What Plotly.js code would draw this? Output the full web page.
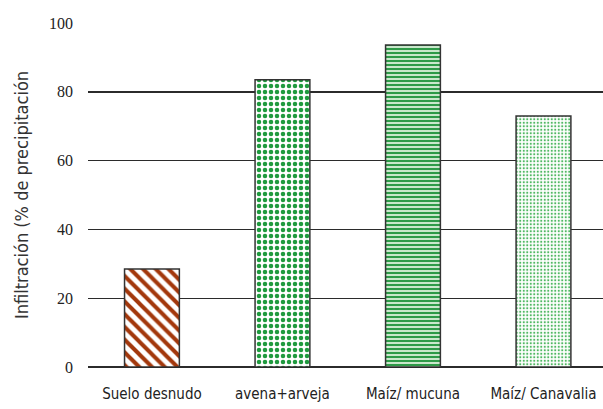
<!DOCTYPE html>
<html><head><meta charset="utf-8">
<script src="https://cdn.plot.ly/plotly-3.0.1.min.js"></script>
<style>body{margin:0;background:#fff}#c{width:603px;height:409px}</style>
</head><body><div id="c"></div>
<script>
const categories = ["Suelo desnudo", "avena+arveja", "Maíz/ mucuna", "Maíz/ Canavalia"];
const infiltration = [28.5, 83.5, 93.6, 73.0];
const yTicks = [0, 20, 40, 60, 80, 100];
const yTitle = "Infiltración (% de precipitación";

const fills = [
  {bg: "#ffffff", fg: "#a3380c", shape: "\\", size: 9, solidity: 0.45},
  {bg: "#ffffff", fg: "#1f9a3e", shape: ".", size: 6, solidity: 0.45},
  {bg: "#c9e7cb", fg: "#2e9a48", shape: "-", size: 4, solidity: 0.5},
  {bg: "#ffffff", fg: "#4fb862", shape: ".", size: 3.5, solidity: 0.3}
];

const traces = categories.map((c, i) => ({
  type: "bar", x: [c], y: [infiltration[i]], width: 0.42,
  marker: {
    color: fills[i].bg,
    line: {color: "#333333", width: 1.5},
    pattern: {shape: fills[i].shape, fgcolor: fills[i].fg, bgcolor: fills[i].bg,
              size: fills[i].size, solidity: fills[i].solidity, fillmode: "replace", fgopacity: 1}
  },
  showlegend: false, hoverinfo: "skip"
}));

const narrow = "DejaVu Sans Condensed, Liberation Sans Narrow, Arial Narrow, sans-serif";
const layout = {
  width: 603, height: 409,
  margin: {l: 88, r: 0, t: 23, b: 42},
  paper_bgcolor: "#fff", plot_bgcolor: "#fff",
  xaxis: {
    type: "category", categoryorder: "array", categoryarray: categories,
    range: [-0.49, 3.456], showgrid: false, zeroline: false, showline: false,
    ticks: "", ticklabelstandoff: 16,
    tickfont: {family: narrow, size: 15, color: "#222"}
  },
  yaxis: {
    range: [0, 100], tickvals: yTicks, showgrid: true, gridcolor: "#2b2b2b", gridwidth: 1.4,
    zeroline: true, zerolinecolor: "#2b2b2b", zerolinewidth: 1.4, showline: false,
    ticks: "", ticklabelstandoff: 14,
    tickfont: {family: "Liberation Serif, Times New Roman, serif", size: 16, color: "#222"},
    title: {text: yTitle, standoff: 15,
            font: {family: narrow, size: 18, color: "#333"}}
  }
};
Plotly.newPlot("c", traces, layout, {displayModeBar: false, staticPlot: true});
</script></body></html>
